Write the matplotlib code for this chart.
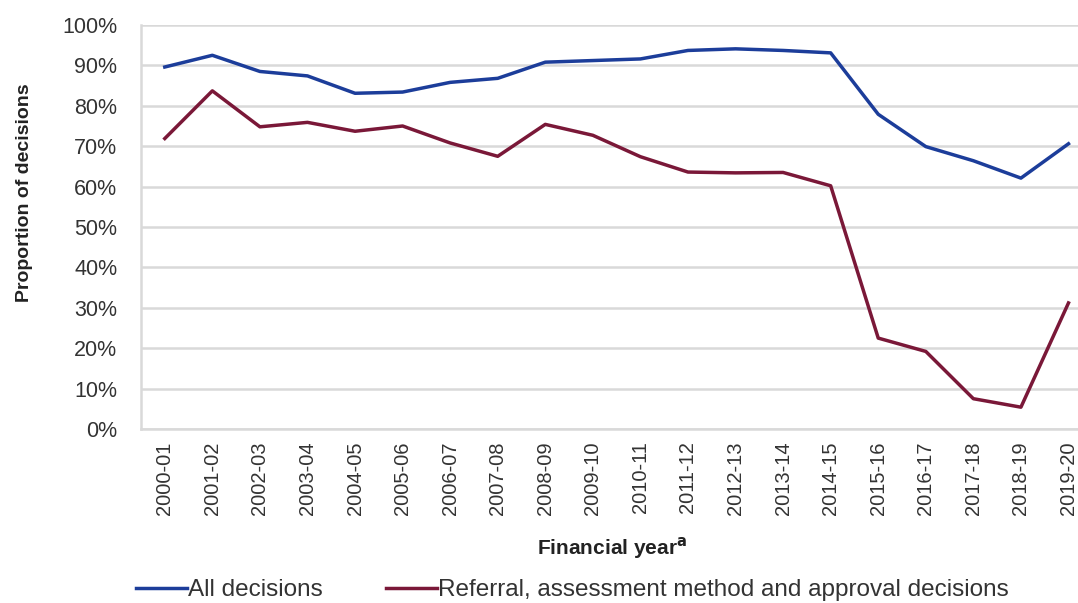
import matplotlib
matplotlib.use("Agg")
import matplotlib.pyplot as plt
from matplotlib.ticker import PercentFormatter

years = ["2000-01", "2001-02", "2002-03", "2003-04", "2004-05", "2005-06", "2006-07",
         "2007-08", "2008-09", "2009-10", "2010-11", "2011-12", "2012-13", "2013-14",
         "2014-15", "2015-16", "2016-17", "2017-18", "2018-19", "2019-20"]
all_decisions = [89.6, 92.5, 88.5, 87.4, 83.1, 83.4, 85.8, 86.8, 90.8, 91.2,
                 91.6, 93.7, 94.1, 93.7, 93.1, 77.9, 69.9, 66.4, 62.1, 70.6]
referral_decisions = [71.9, 83.7, 74.8, 75.9, 73.7, 75.0, 70.8, 67.5, 75.4, 72.7,
                      67.4, 63.6, 63.4, 63.5, 60.2, 22.5, 19.2, 7.5, 5.4, 31.2]
series_names = ["All decisions", "Referral, assessment method and approval decisions"]
y_ticks = [0, 10, 20, 30, 40, 50, 60, 70, 80, 90, 100]

plt.rcParams['font.family'] = ['Liberation Sans', 'DejaVu Sans']

W, H = 1078, 603
fig = plt.figure(figsize=(W / 100, H / 100), dpi=100)
left, right, top, bottom = 141, 1078, 25, 429
ax = fig.add_axes([left / W, 1 - bottom / H, (right - left) / W, (bottom - top) / H])

x = list(range(len(years)))
blue = "#1c3d9a"
maroon = "#7a1838"
l1, = ax.plot(x, all_decisions, color=blue, lw=2.5, solid_joinstyle='round', zorder=3)
l2, = ax.plot(x, referral_decisions, color=maroon, lw=2.5, solid_joinstyle='round', zorder=3)

ax.set_ylim(0, 100)
ax.set_xlim(-0.5, 19.2)
ax.set_yticks(y_ticks)
ax.yaxis.set_major_formatter(PercentFormatter(decimals=0))
ax.set_xticks(x)
ax.set_xticklabels(years, rotation=90)
ax.tick_params(axis='y', length=0, pad=17, labelsize=15.5, labelcolor='#333333')
ax.tick_params(axis='x', length=0, pad=9, labelsize=14.5, labelcolor='#333333')

ax.grid(axis='y', color='#d9d9d9', lw=1.8, zorder=0)
for s in ['top', 'right']:
    ax.spines[s].set_visible(False)
ax.spines['left'].set_color('#d9d9d9')
ax.spines['left'].set_linewidth(1.8)
ax.spines['bottom'].set_color('#d9d9d9')
ax.spines['bottom'].set_linewidth(1.8)

fig.text(25 / W, 1 - 193 / H, "Proportion of decisions", rotation=90, ha='center', va='center',
         fontsize=14, fontweight='bold', color='#222222')
fig.text(612 / W, 1 - 548 / H, r"Financial year$^{\mathbf{a}}$", ha='center', va='center',
         fontsize=15, fontweight='bold', color='#222222')

fig.legend([l1, l2], series_names, loc='center left', bbox_to_anchor=(136 / W, 1 - 590 / H),
           ncol=2, frameon=False, fontsize=17.5, handlelength=2.1, handletextpad=0.05,
           columnspacing=2.6, borderpad=0, borderaxespad=0, labelcolor='#333333')

fig.savefig("out.png", dpi=100)
